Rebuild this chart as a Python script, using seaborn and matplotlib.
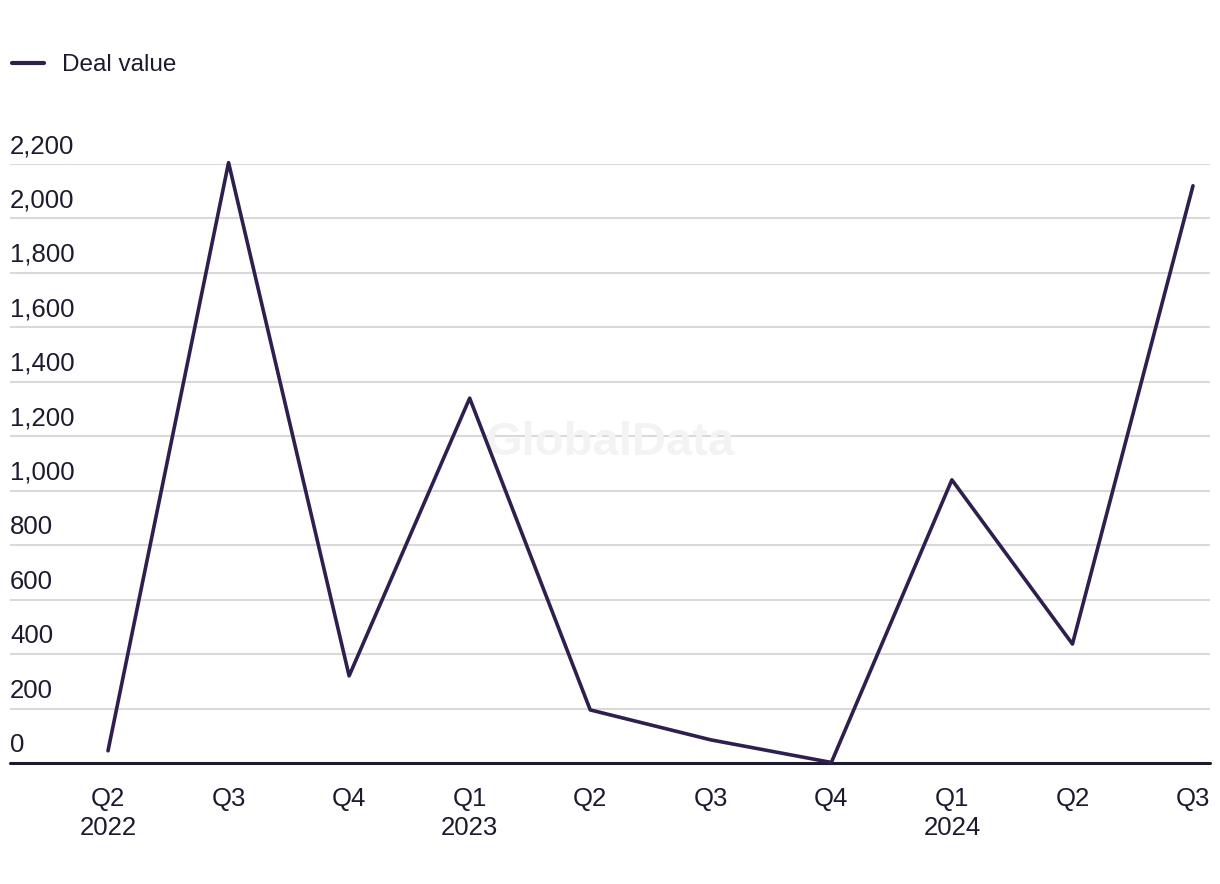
import pandas as pd
import seaborn as sns
import matplotlib.pyplot as plt

# данные
periods = ["2022Q2", "2022Q3", "2022Q4", "2023Q1", "2023Q2",
           "2023Q3", "2023Q4", "2024Q1", "2024Q2", "2024Q3"]
tick_labels = ["Q2\n2022", "Q3", "Q4", "Q1\n2023", "Q2",
               "Q3", "Q4", "Q1\n2024", "Q2", "Q3"]
deal_value = [45, 2205, 320, 1340, 195, 85, 2, 1040, 437, 2120]
y_ticks = [0, 200, 400, 600, 800, 1000, 1200, 1400, 1600, 1800, 2000, 2200]

df = pd.DataFrame({"period": periods, "value": deal_value})
df["pos"] = range(len(df))

sns.set_theme(style="white")
plt.rcParams["font.family"] = ["Liberation Sans", "DejaVu Sans"]

text_color = "#1c1b2e"
line_color = "#2f1f4e"

fig = plt.figure(figsize=(12.2, 8.84), dpi=100)
ax = fig.add_axes([10 / 1220, 121 / 884, 1200 / 1220, 599 / 884])

# сетка
for v in y_ticks[1:]:
    ax.axhline(v, color="#d9d9d9", lw=1.5, zorder=1)
ax.axhline(0, color=text_color, lw=2.2, zorder=3, clip_on=False)

sns.lineplot(data=df, x="pos", y="value", ax=ax, color=line_color,
             lw=2.6, label="Deal value", zorder=4, clip_on=False)

ax.set_xlim(-0.813, 9.141)
ax.set_ylim(0, 2200)
ax.set_xticks(df["pos"])
ax.set_xticklabels(tick_labels, fontsize=18.5, color=text_color, linespacing=1.3,
                   va="top")
ax.tick_params(axis="x", length=0, pad=17)
ax.set_yticks([])
ax.set_xlabel("")
ax.set_ylabel("")
for s in ax.spines.values():
    s.set_visible(False)

# подписи оси Y над линиями сетки
for v in y_ticks:
    ax.text(ax.get_xlim()[0], v + 22, f"{v:,}", fontsize=18.5, color=text_color,
            ha="left", va="bottom", zorder=5)

# водяной знак
ax.text(0.5, 0.535, "GlobalData", transform=ax.transAxes, fontsize=34,
        fontweight="bold", color="#f3f3f3", ha="center", va="center", zorder=2)

leg = ax.legend(loc="upper left", bbox_to_anchor=(-0.0165, 1.22), frameon=False,
                fontsize=17.5, handlelength=1.3, handletextpad=0.75,
                labelcolor=text_color)
for h in leg.get_lines():
    h.set_linewidth(3)

fig.savefig("out.png", dpi=100)
